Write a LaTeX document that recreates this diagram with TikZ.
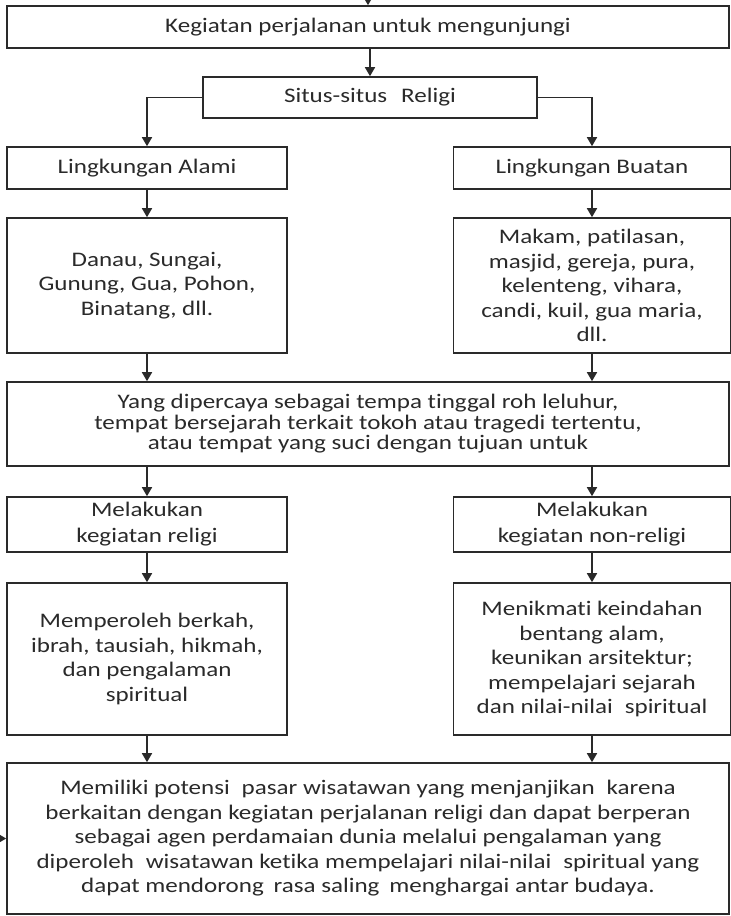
\documentclass[tikz,border=0pt]{standalone}
\usepackage{fontspec}
\setmainfont{Carlito}[FakeStretch=1.21, Ligatures=NoCommon]
\usetikzlibrary{arrows.meta}
\definecolor{ink}{HTML}{2A2A2A}
\begin{document}
\begin{tikzpicture}[x=1pt,y=-1pt,
  box/.style={draw=ink, line width=1.6pt, fill=white, inner sep=0pt, align=center, text=ink,
    font=\fontsize{20.7}{24.5}\selectfont},
  colbox/.style={box, minimum width=280pt},
  widebox/.style={box, minimum width=722pt},
  arr/.style={draw=ink, line width=1.6pt, -{Triangle[length=9pt,width=10pt]}}]
\useasboundingbox (0,0) rectangle (731,916);
% nodes
\node[widebox, minimum height=42pt] (top) at (368,27) {Kegiatan perjalanan untuk mengunjungi};
\node[box, minimum width=334pt, minimum height=41pt] (situs) at (370,97.5) {Situs-situs\hspace{0.4em} Religi};
\node[colbox, minimum height=42pt] (alami) at (147,168) {Lingkungan Alami};
\node[colbox, minimum width=277pt, minimum height=42pt] (buatan) at (592,168) {Lingkungan Buatan};
\node[colbox, minimum height=135pt] (danau) at (147,285.5) {Danau, Sungai,\\Gunung, Gua, Pohon,\\Binatang, dll.};
\node[colbox, minimum width=277pt, minimum height=135pt] (makam) at (592,285.5) {Makam, patilasan,\\masjid, gereja, pura,\\kelenteng, vihara,\\candi, kuil, gua maria,\\dll.};
\node[widebox, minimum height=84pt, font=\fontsize{20.7}{20.5}\selectfont] (yang) at (368,424) {Yang dipercaya sebagai tempa tinggal roh leluhur,\\tempat bersejarah terkait tokoh atau tragedi tertentu,\\atau tempat yang suci dengan tujuan untuk};
\node[colbox, minimum height=55pt, font=\fontsize{20.7}{26}\selectfont] (mel1) at (147,524.5) {Melakukan\\kegiatan religi};
\node[colbox, minimum width=277pt, minimum height=55pt, font=\fontsize{20.7}{26}\selectfont] (mel2) at (592,524.5) {Melakukan\\kegiatan non-religi};
\node[colbox, minimum height=152pt] (mem) at (147,659) {Memperoleh berkah,\\ibrah, tausiah, hikmah,\\dan pengalaman\\spiritual};
\node[colbox, minimum width=277pt, minimum height=152pt] (men) at (592,659) {Menikmati keindahan\\bentang alam,\\keunikan arsitektur;\\mempelajari sejarah\\dan nilai-nilai\hspace{0.3em} spiritual};
\node[widebox, minimum height=151pt] (bot) at (368,838.5) {Memiliki potensi\hspace{0.3em} pasar wisatawan yang menjanjikan\hspace{0.3em} karena\\berkaitan dengan kegiatan perjalanan religi dan dapat berperan\\sebagai agen perdamaian dunia melalui pengalaman yang\\diperoleh\hspace{0.3em} wisatawan ketika mempelajari nilai-nilai\hspace{0.3em} spiritual yang\\dapat mendorong\hspace{0.2em} rasa saling\hspace{0.2em} menghargai antar budaya.};
% free ends
\coordinate (tin) at (368,0);
\coordinate (lin) at (0,838.5);
% connectors
\draw[arr] (tin) -- (top.north);
\draw[arr] (top.south -| situs.north) -- (situs.north);
\draw[arr] (situs.west) -| (alami.north);
\draw[arr] (situs.east) -| (buatan.north);
\draw[arr] (alami.south) -- (danau.north);
\draw[arr] (buatan.south) -- (makam.north);
\draw[arr] (danau.south) -- (danau.south |- yang.north);
\draw[arr] (makam.south) -- (makam.south |- yang.north);
\draw[arr] (mel1.north |- yang.south) -- (mel1.north);
\draw[arr] (mel2.north |- yang.south) -- (mel2.north);
\draw[arr] (mel1.south) -- (mem.north);
\draw[arr] (mel2.south) -- (men.north);
\draw[arr] (mem.south) -- (mem.south |- bot.north);
\draw[arr] (men.south) -- (men.south |- bot.north);
\draw[arr] (lin) -- (bot.west);
\end{tikzpicture}
\end{document}
